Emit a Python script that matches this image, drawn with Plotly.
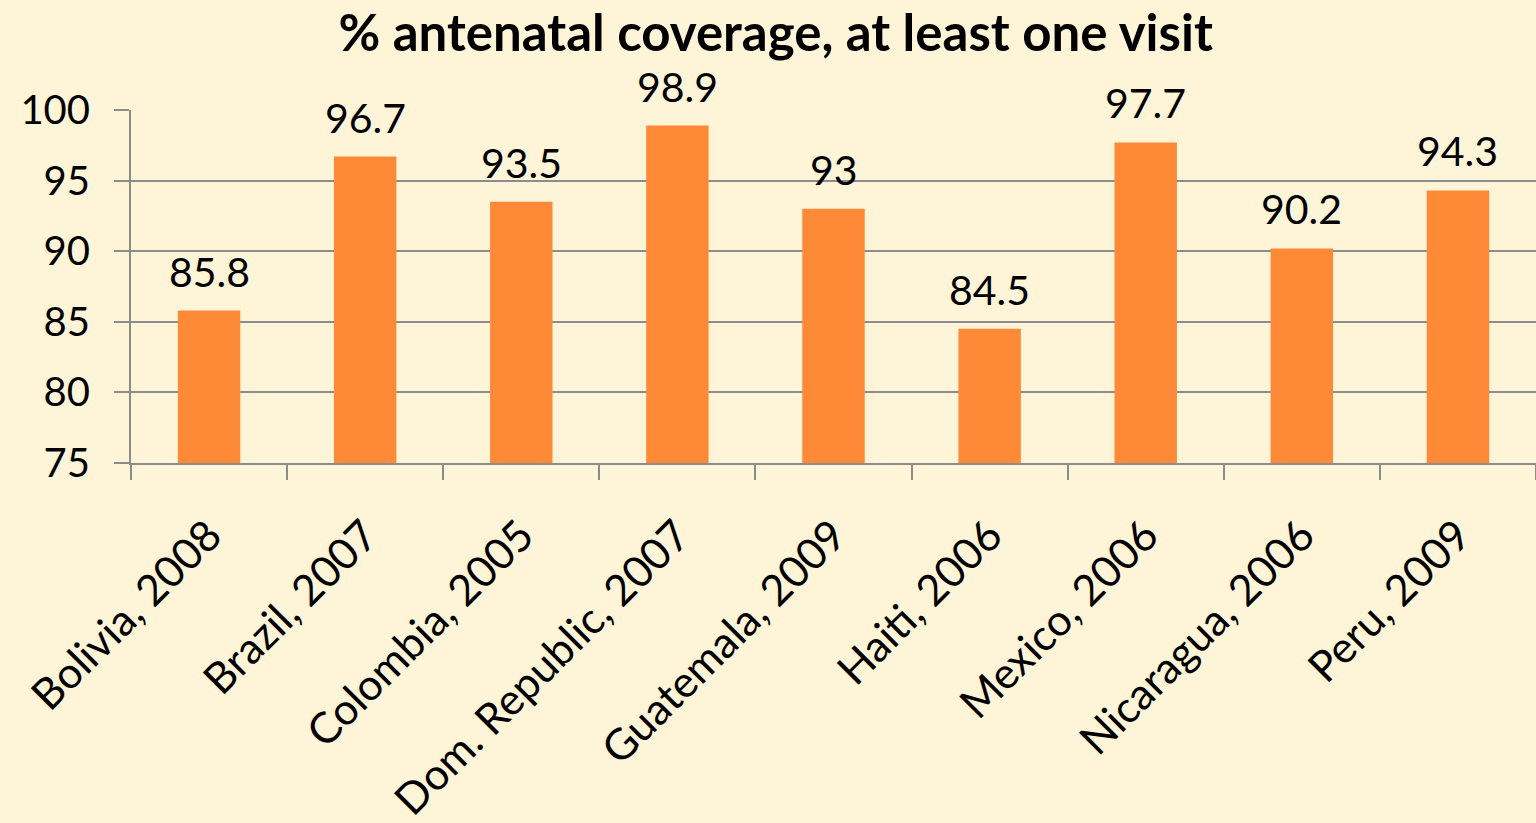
import plotly.graph_objects as go

categories = ["Bolivia, 2008", "Brazil, 2007", "Colombia, 2005", "Dom. Republic, 2007",
              "Guatemala, 2009", "Haiti, 2006", "Mexico, 2006", "Nicaragua, 2006", "Peru, 2009"]
values = [85.8, 96.7, 93.5, 98.9, 93, 84.5, 97.7, 90.2, 94.3]
value_labels = ["85.8", "96.7", "93.5", "98.9", "93", "84.5", "97.7", "90.2", "94.3"]
y_ticks = [75, 80, 85, 90, 95, 100]

BG = "#FEF4D7"
BAR = "#FE8A38"
GRID = "#8C8C8C"
FONT = "Lato"

fig = go.Figure(go.Bar(
    x=categories, y=values,
    marker=dict(color=BAR, line=dict(width=0)),
    hoverinfo="x+y",
))

for c, v, t in zip(categories, values, value_labels):
    fig.add_annotation(x=c, y=v, text=t, showarrow=False, yanchor="bottom", yshift=13,
                       font=dict(family=FONT, size=41, color="black"))

fig.update_layout(
    width=1536, height=823,
    paper_bgcolor=BG, plot_bgcolor=BG,
    margin=dict(l=131, r=0, t=110, b=360),
    bargap=0.6,
    showlegend=False,
    title=dict(text="<b>% antenatal coverage, at least one visit</b>",
               font=dict(family=FONT, size=51, color="black"),
               x=0.505, xref="container", xanchor="center",
               y=1 - 33 / 823, yref="container", yanchor="middle"),
    font=dict(family=FONT, color="black"),
)

fig.update_yaxes(
    range=[75, 100], tickvals=y_ticks, ticks="outside", ticklen=15, tickcolor=GRID, tickwidth=2,
    showgrid=True, gridcolor=GRID, gridwidth=2, zeroline=False,
    showline=True, linecolor=GRID, linewidth=2,
    tickfont=dict(family=FONT, size=40, color="black"), ticklabelstandoff=16,
)
fig.update_xaxes(
    ticks="outside", ticklen=15, tickcolor=GRID, tickwidth=2, tickson="boundaries",
    showline=True, linecolor=GRID, linewidth=2, showgrid=False,
    tickangle=-45, tickfont=dict(family=FONT, size=43, color="black"), ticklabelstandoff=28,
)

fig.write_html("out.html", config={"displayModeBar": False},
               post_script="document.body.style.margin='0';document.body.style.overflow='hidden';")
